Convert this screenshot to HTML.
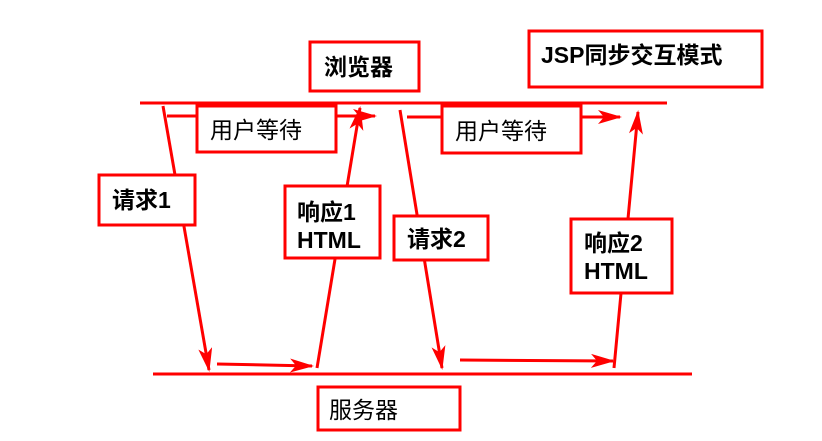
<!DOCTYPE html>
<html><head><meta charset="utf-8"><style>
html,body{margin:0;padding:0;background:#fff;}
svg{display:block;}
text{font-family:"Liberation Sans","Noto Sans CJK SC",sans-serif;font-size:23px;fill:#000;}
.b{font-weight:bold;}
</style></head><body>
<svg width="822" height="441" viewBox="0 0 822 441" xmlns="http://www.w3.org/2000/svg">
<defs>
<marker id="a" markerWidth="24" markerHeight="14" refX="22" refY="7" orient="auto" markerUnits="userSpaceOnUse">
<path d="M0,0 L24,7 L0,14 L6,7 Z" fill="#f00"/>
</marker>
</defs>
<g stroke="#f00" stroke-width="3" fill="none">
<line x1="140" y1="103" x2="667" y2="103"/>
<line x1="153" y1="374" x2="692" y2="374"/>
<line x1="163" y1="106" x2="209" y2="370" marker-end="url(#a)"/>
<line x1="167" y1="116" x2="375" y2="116" marker-end="url(#a)"/>
<line x1="317" y1="368" x2="360" y2="108" marker-end="url(#a)"/>
<line x1="400" y1="110" x2="442" y2="368" marker-end="url(#a)"/>
<line x1="407" y1="117" x2="620" y2="117" marker-end="url(#a)"/>
<line x1="614" y1="368" x2="638" y2="112" marker-end="url(#a)"/>
<line x1="217" y1="364" x2="312" y2="366" marker-end="url(#a)"/>
<line x1="460" y1="360" x2="613" y2="361" marker-end="url(#a)"/>
</g>
<g stroke="#f00" stroke-width="3" fill="#fff">
<rect x="310" y="42" width="109" height="49"/>
<rect x="529" y="31" width="233" height="56"/>
<rect x="197" y="106" width="139" height="46"/>
<rect x="442" y="106" width="139" height="47"/>
<rect x="99" y="175" width="96" height="50"/>
<rect x="285" y="186" width="95" height="72"/>
<rect x="394" y="216" width="94" height="44"/>
<rect x="571" y="219" width="101" height="74"/>
<rect x="318" y="387" width="142" height="43"/>
</g>
<text x="324" y="75" class="b">浏览器</text>
<text x="541" y="63" class="b">JSP同步交互模式</text>
<text x="210" y="138">用户等待</text>
<text x="455" y="139">用户等待</text>
<text x="112" y="208" class="b">请求1</text>
<text x="297" y="220" class="b">响应1</text>
<text x="297" y="248" class="b">HTML</text>
<text x="407" y="247" class="b">请求2</text>
<text x="584" y="251" class="b">响应2</text>
<text x="584" y="279" class="b">HTML</text>
<text x="329" y="418">服务器</text>
</svg>
</body></html>
